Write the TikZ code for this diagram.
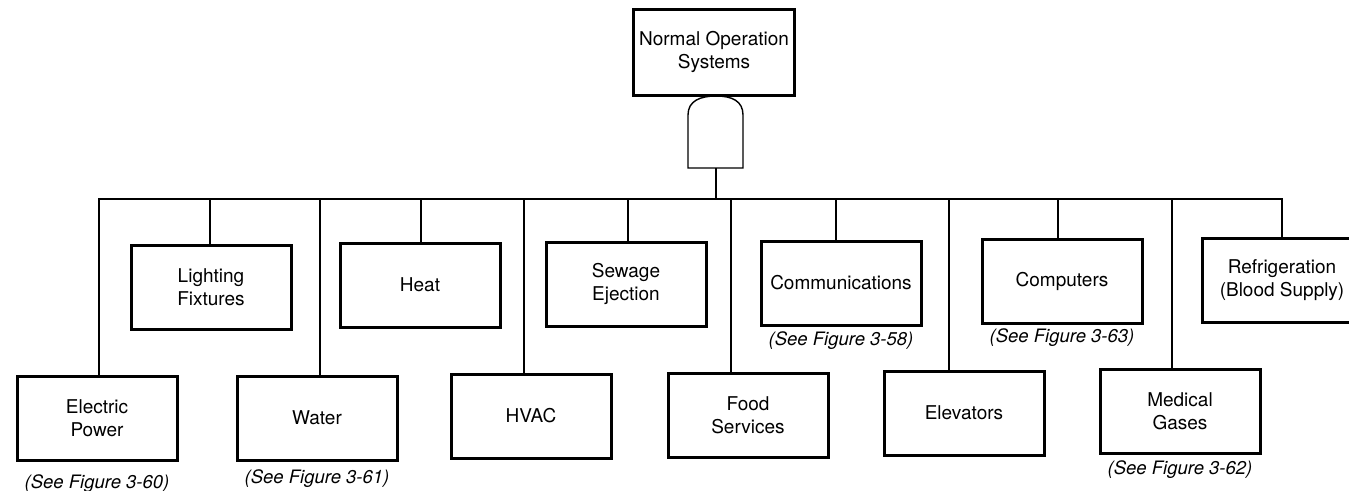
\documentclass[tikz,border=0pt]{standalone}
\usepackage{fontspec}
\setmainfont{TeX Gyre Heros}
\usepackage{tikz}
\usetikzlibrary{arrows,shapes,positioning}
\tikzstyle{unit}=[draw,line width=3pt,minimum width=160pt,minimum height=84pt,inner sep=2pt,align=center,font=\fontsize{19}{23}\selectfont]
\tikzstyle{seefig}=[inner sep=2pt,font=\fontsize{18.5}{22}\selectfont\itshape]
\tikzstyle{link}=[draw,line width=1.4pt]

\begin{document}
\begin{tikzpicture}[x=1pt,y=-1pt]
    \useasboundingbox (0,0) rectangle (1349,490);
    \node[unit,minimum width=161pt,minimum height=86pt] (top) at (714,52) {Normal Operation\\Systems};
    % gate under the top event
    \path[link] (688,168) -- (688,115) .. controls (688,101) and (700,96) .. (716,96)
        .. controls (732,96) and (743,101) .. (743,115) -- (743,168) -- cycle;
    \coordinate (gate) at (716,168);
    \coordinate (bus) at (716,199);
    \path[link] (gate) -- (bus);
    \foreach \pos/\name/\txt in {{(97,418)/elec/{Electric\\Power}}, {(211,287)/light/{Lighting\\Fixtures}},
        {(317,418)/water/Water}, {(420,285)/heat/Heat}, {(531,416)/hvac/HVAC}, {(626,284)/sewage/{Sewage\\Ejection}},
        {(748,415)/food/{Food\\Services}}, {(841,283)/comm/Communications}, {(964,413)/elev/Elevators},
        {(1062,281)/comp/Computers}, {(1180,411)/med/{Medical\\Gases}}, {(1282,280)/refr/{Refrigeration\\(Blood Supply)}}}
        \node[unit] (\name) at \pos {\txt};
    \foreach \name/\dx in {elec/2, light/-1, water/3, heat/1, hvac/-7, sewage/2, food/-17, comm/-5, elev/-15, comp/-4, med/-8, refr/0}
        \path[link] (bus) -| ([xshift=\dx pt]\name.north);
    \node[seefig,below=11pt of elec] (elecfig) {(See Figure 3-60)};
    \node[seefig,below=6pt of water] (waterfig) {(See Figure 3-61)};
    \node[seefig,below=3pt of comm] (commfig) {(See Figure 3-58)};
    \node[seefig,below=2pt of comp] (compfig) {(See Figure 3-63)};
    \node[seefig,below=4pt of med] (medfig) {(See Figure 3-62)};
\end{tikzpicture}
\end{document}
